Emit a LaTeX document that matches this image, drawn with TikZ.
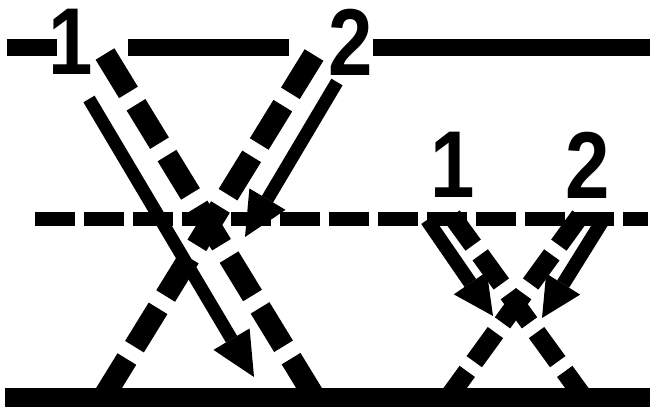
\documentclass[tikz,border=0pt]{standalone}
\usepackage{fontspec}
\setmainfont{Liberation Sans}
\usetikzlibrary{arrows.meta}

\tikzset{
  wall/.style={line width=17pt},
  ray/.style={line width=13pt, -{Triangle[length=44pt, width=42pt, line width=0pt]}},
  sray/.style={line width=14pt, -{Triangle[length=40pt, width=40pt, line width=0pt]}},
  wave/.style={line width=22pt, dash pattern=on 45pt off 14.5pt},
  swave/.style={line width=19pt, dash pattern=on 36pt off 12pt},
  lbl/.style={inner sep=0pt, xscale=0.84, font=\fontsize{95}{95}\selectfont\bfseries}
}

\begin{document}
\begin{tikzpicture}[x=1pt, y=-1pt]
  \useasboundingbox (0,0) rectangle (656,414);

  % boundaries
  \draw[wall] (7,47.5) -- (57,47.5);
  \draw[wall] (128,47.5) -- (289,47.5);
  \draw[wall] (373,47.5) -- (650,47.5);
  \draw[line width=13.5pt, dash pattern=on 40pt off 9pt] (35,219) -- (648,219);
  \draw[line width=19pt] (5,397.5) -- (650,397.5);

  % labels
  \node[lbl] (top1) at (71,42) {1};
  \node[lbl] (top2) at (351,42) {2};
  \node[lbl] (mid1) at (453,165) {1};
  \node[lbl] (mid2) at (588,165) {2};

  % end points
  \coordinate (wa0) at (105,54);   \coordinate (wa1) at (314.8,397.5);
  \coordinate (wb0) at (314,55);   \coordinate (wb1) at (103.2,397.5);
  \coordinate (wc0) at (452,216);  \coordinate (wc1) at (583.7,397.5);
  \coordinate (wd0) at (580,216);  \coordinate (wd1) at (448.3,397.5);
  \coordinate (ra0) at (89,99);    \coordinate (ra1) at (254,377);
  \coordinate (rb0) at (337,82);   \coordinate (rb1) at (245,237);
  \coordinate (rc0) at (427,220);  \coordinate (rc1) at (493,316);
  \coordinate (rd0) at (603,220);  \coordinate (rd1) at (542,318);

  % large cross
  \draw[wave] (wa0) -- (wa1);
  \draw[wave] (wb0) -- (wb1);
  \draw[ray] (ra0) -- (ra1);
  \draw[ray] (rb0) -- (rb1);

  % small cross
  \draw[swave] (wc0) -- (wc1);
  \draw[swave] (wd0) -- (wd1);
  \draw[sray] (rc0) -- (rc1);
  \draw[sray] (rd0) -- (rd1);
\end{tikzpicture}
\end{document}
